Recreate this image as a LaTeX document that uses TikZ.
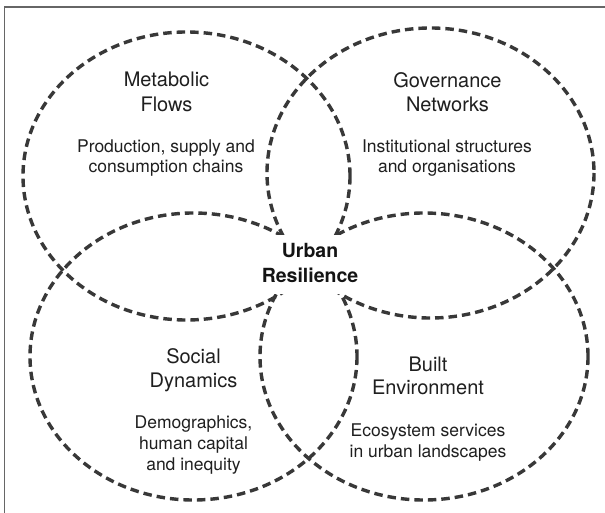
\documentclass[tikz,border=0pt]{standalone}
\usepackage{fontspec}
\setmainfont{TeX Gyre Heros}
\begin{document}
\begin{tikzpicture}[x=1pt,y=-1pt,
  ring/.style={draw=black!78, line width=3.4pt, dash pattern=on 8.5pt off 5pt},
  frameline/.style={draw=black!60, line width=1.4pt},
  ttl/.style={anchor=base, inner sep=0pt, text=black!88, font=\fontsize{20}{24}\selectfont},
  dsc/.style={anchor=base, inner sep=0pt, text=black!88, font=\fontsize{17.5}{20}\selectfont},
  ctr/.style={anchor=base, inner sep=0pt, text=black!92, font=\bfseries\fontsize{19.5}{24}\selectfont}]
\useasboundingbox (0,0) rectangle (605,513);
\fill[white] (0,0) rectangle (605,513);
\draw[frameline] (4.5,513) -- (4.5,7) -- (605,7);
% ellipses
\draw[ring] (186.5,176) ellipse [x radius=163.5, y radius=144];
\draw[ring] (430.5,173) ellipse [x radius=163.5, y radius=145];
\draw[ring] (193.5,356.5) ellipse [x radius=163.5, y radius=143.5];
\draw[ring] (424,356.5) ellipse [x radius=164, y radius=143.5];
% Metabolic Flows
\node[ttl] (mf1) at (166.5,87) {Metabolic};
\node[ttl] (mf2) at (166.5,111.5) {Flows};
\node[dsc] (mf3) at (166,153) {Production, supply and};
\node[dsc] (mf4) at (166,172.5) {consumption chains};
% Governance Networks
\node[ttl] (gn1) at (447.5,88) {Governance};
\node[ttl] (gn2) at (447.5,112) {Networks};
\node[dsc] (gn3) at (447,153) {Institutional structures};
\node[dsc] (gn4) at (447,172.5) {and organisations};
% Urban Resilience
\node[fill=white, inner sep=0pt, minimum width=100pt, minimum height=58pt] (urbg) at (310,264.5) {};
\node[ctr] (ur1) at (310,257) {Urban};
\node[ctr] (ur2) at (310,282) {Resilience};
% Social Dynamics
\node[ttl] (sd1) at (193.5,363) {Social};
\node[ttl] (sd2) at (193.5,387) {Dynamics};
\node[dsc] (sd3) at (193.5,428) {Demographics,};
\node[dsc] (sd4) at (193.5,449) {human capital};
\node[dsc] (sd5) at (193.5,470) {and inequity};
% Built Environment
\node[ttl] (be1) at (428,371) {Built};
\node[ttl] (be2) at (428,394) {Environment};
\node[dsc] (be3) at (428,436) {Ecosystem services};
\node[dsc] (be4) at (428,457) {in urban landscapes};
\end{tikzpicture}
\end{document}
